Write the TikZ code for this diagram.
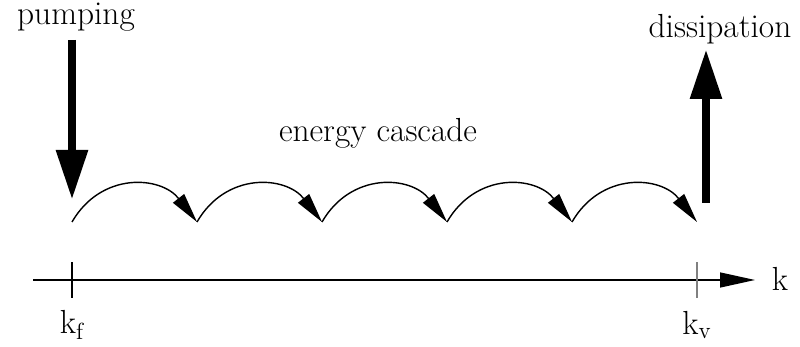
\documentclass[tikz,border=0pt]{standalone}
\usetikzlibrary{arrows.meta}
\tikzset{
  bigarrowS/.style={line width=5pt, -{Triangle[length=1cm,width=0.6cm]}},
  hopS/.style     ={line width=0.8pt, looseness=1.2, -{Triangle[length=0.6cm,width=0.28cm]}},
  axisS/.style    ={line width=0.8pt, -{Triangle[length=0.7cm,width=0.3cm]}},
  tickS/.style    ={line width=0.8pt},
  lbl/.style      ={font=\fontsize{19}{22}\selectfont, inner sep=0pt},
}
\begin{document}
\begin{tikzpicture}
  \useasboundingbox (0,0) rectangle (16,6.94);
  % cascade points
  \foreach \i in {0,...,5} \coordinate (c\i) at (1.44+2.5*\i,2.5);
  \foreach \i [evaluate=\i as \j using int(\i+1)] in {0,...,4}
    \draw[hopS] (c\i) to[out=60,in=128] (c\j);
  \node[lbl] (cascade) at (7.56,4.28) {energy cascade};
  % pumping
  \node[lbl] (pump) at (1.52,6.6) {pumping};
  \coordinate (pumpTop) at (1.44,6.14);
  \coordinate (pumpTip) at (1.44,2.94);
  \draw[bigarrowS] (pumpTop) -- (pumpTip);
  % dissipation
  \node[lbl] (diss) at (14.4,6.36) {dissipation};
  \coordinate (dissBot) at (14.12,2.88);
  \coordinate (dissTip) at (14.12,5.96);
  \draw[bigarrowS] (dissBot) -- (dissTip);
  % k axis
  \coordinate (ax0) at (0.66,1.34);
  \coordinate (ax1) at (15.1,1.34);
  \draw[axisS] (ax0) -- (ax1);
  \node[lbl] (k) at (15.6,1.36) {k};
  \draw[tickS] (1.44,0.98) -- (1.44,1.7);
  \draw[tickS, gray] (13.94,0.98) -- (13.94,1.7);
  \node[lbl] (kf) at (1.44,0.44) {k\textsubscript{f}};
  \node[lbl] (kv) at (13.94,0.44) {k\textsubscript{v}};
\end{tikzpicture}
\end{document}
